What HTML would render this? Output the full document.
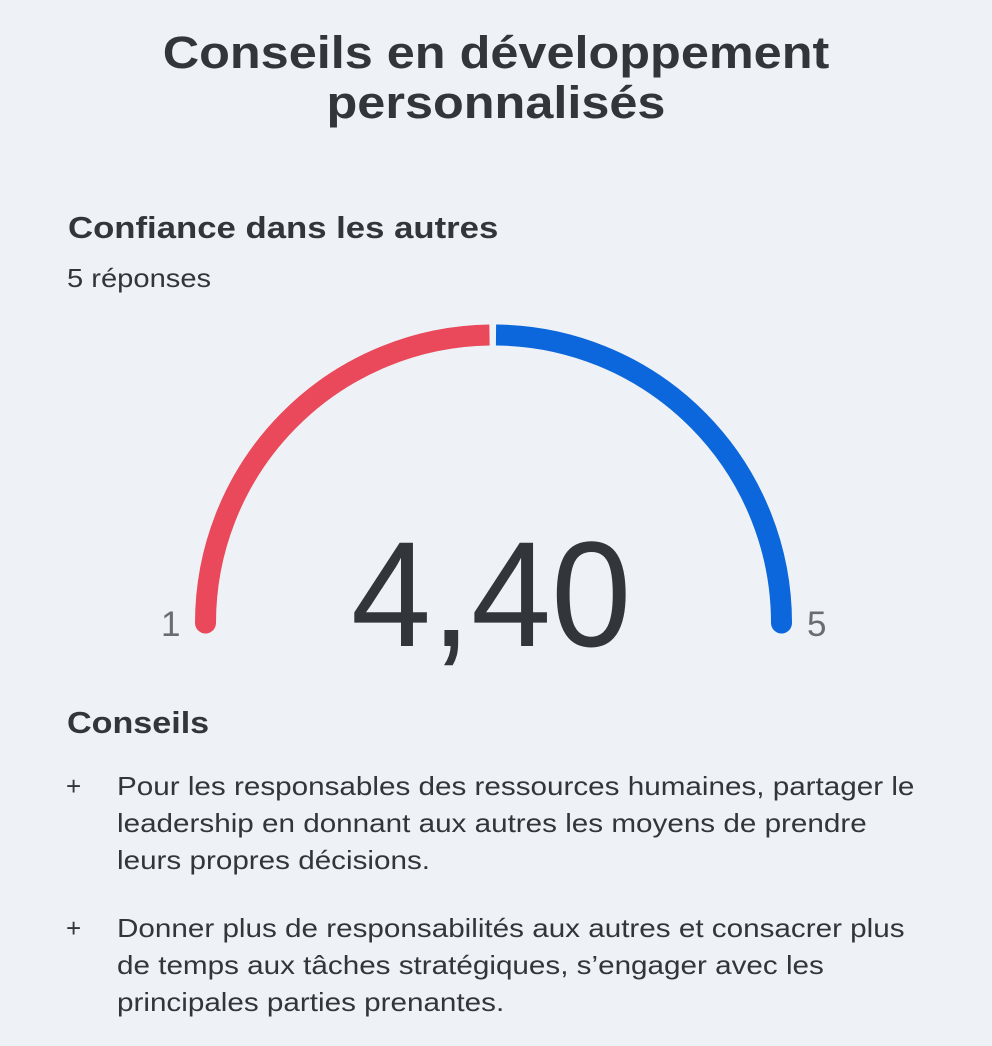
<!DOCTYPE html>
<html><head><meta charset="utf-8"><style>
html,body{margin:0;padding:0}
body{width:992px;height:1046px;background:#eef2f6;font-family:"Liberation Sans",sans-serif;color:#32363a;position:relative;overflow:hidden}
.t{position:absolute;white-space:nowrap;transform-origin:0 0}
h1{position:absolute;top:28px;left:0;width:992px;margin:0;text-align:center;font-size:45px;line-height:50px;font-weight:bold;transform:scaleX(1.12);transform-origin:496px 0}
.li{position:absolute;left:117px;font-size:26px;line-height:37px;white-space:nowrap;transform:scaleX(1.14);transform-origin:0 0}
.plus{position:absolute;left:66px;font-size:26px}
</style></head><body>
<h1>Conseils en développement<br>personnalisés</h1>
<div class="t" style="left:68px;top:210px;font-size:31px;font-weight:bold;transform:scaleX(1.12)">Confiance dans les autres</div>
<div class="t" style="left:67px;top:263px;font-size:26px;transform:scaleX(1.12)">5 réponses</div>
<svg width="992" height="1046" style="position:absolute;left:0;top:0">
<path d="M205.5 623 A288 288 0 0 1 489.5 335" fill="none" stroke="#e9495b" stroke-width="21"/>
<path d="M496 335 A288 288 0 0 1 781.5 623" fill="none" stroke="#0b67db" stroke-width="21"/>
<circle cx="205.5" cy="623" r="10.5" fill="#e9495b"/>
<circle cx="781.5" cy="623" r="10.5" fill="#0b67db"/>
</svg>
<div class="t" style="left:161px;top:605px;font-size:35px;color:#6a6d70">1</div>
<div class="t" style="left:807px;top:605px;font-size:35px;color:#6a6d70">5</div>
<div class="t" style="left:351px;top:514px;font-size:150px;line-height:160px;color:#32363a;transform:scaleX(0.96)">4,40</div>
<div class="t" style="left:67px;top:705px;font-size:31px;font-weight:bold;transform:scaleX(1.1)">Conseils</div>
<div class="plus" style="top:771px">+</div>
<div class="li" style="top:768px">Pour les responsables des ressources humaines, partager le<br>leadership en donnant aux autres les moyens de prendre<br>leurs propres décisions.</div>
<div class="plus" style="top:913px">+</div>
<div class="li" style="top:910px">Donner plus de responsabilités aux autres et consacrer plus<br>de temps aux tâches stratégiques, s’engager avec les<br>principales parties prenantes.</div>
</body></html>
